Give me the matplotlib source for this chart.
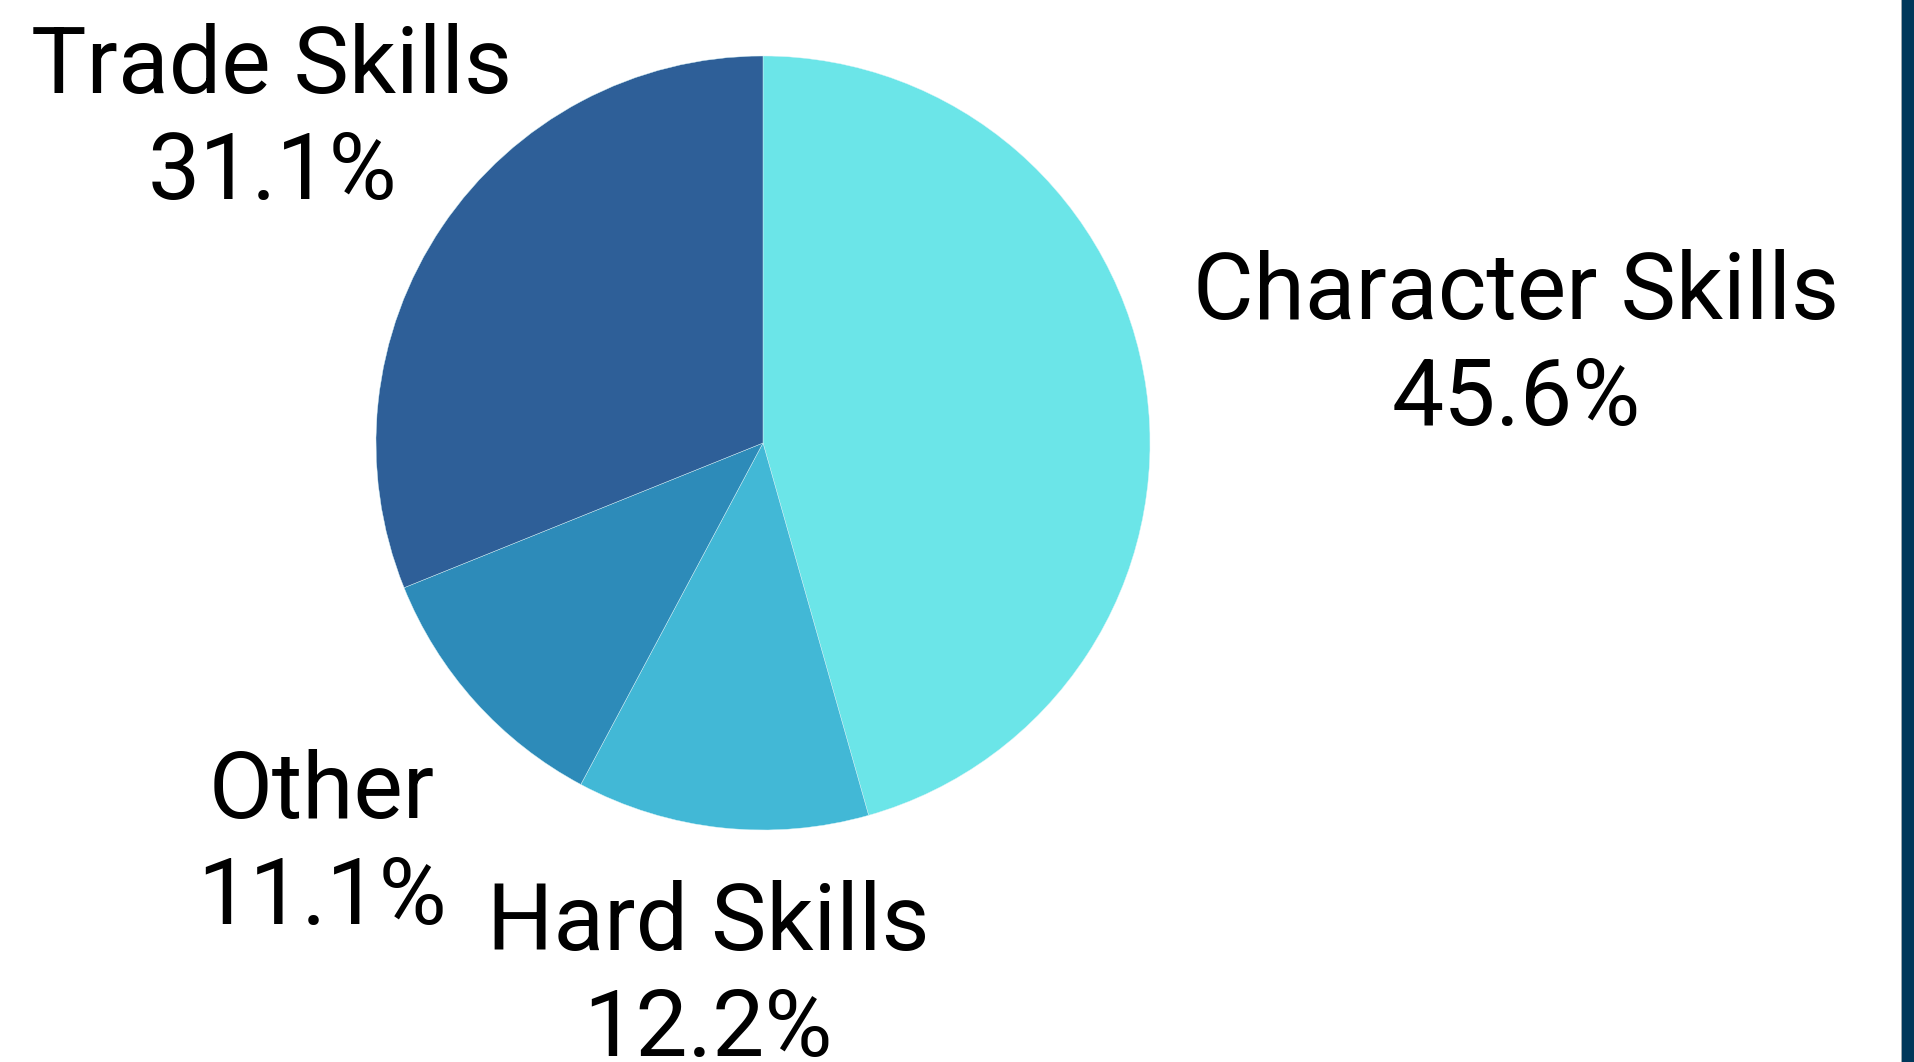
import matplotlib
matplotlib.use('Agg')
import matplotlib.pyplot as plt
from matplotlib.patches import Rectangle

W, H = 1914, 1062  # output size in pixels
DPI = 100

# Data
categories = ['Character Skills', 'Hard Skills', 'Other', 'Trade Skills']
shares = [45.6, 12.2, 11.1, 31.1]
colors = ['#6be5e8', '#42b8d6', '#2d8bb9', '#2e5f98']

# Label anchors (pixel x of centre, pixel baseline of first line)
label_pos = {
    'Character Skills': (1516, 319),
    'Hard Skills': (708, 950),
    'Other': (322, 818),
    'Trade Skills': (272, 93),
}
LINE_GAP = 106  # baseline to baseline

plt.rcParams['font.family'] = ['Roboto', 'DejaVu Sans']


def px(x, y):
    return x / W, 1 - y / H


def main():
    fig = plt.figure(figsize=(W / DPI, H / DPI), dpi=DPI)
    fig.patch.set_facecolor('white')

    cx, cy, r = 763, 443, 387
    left, bottom = px(cx - r, cy + r)
    ax = fig.add_axes([left, bottom, 2 * r / W, 2 * r / H])
    ax.pie(shares, colors=colors, startangle=90, counterclock=False,
           wedgeprops=dict(edgecolor='#d8f4f8', linewidth=0.3), frame=False)
    ax.set_xlim(-1, 1)
    ax.set_ylim(-1, 1)
    ax.set_aspect('auto')
    ax.axis('off')

    for name, val in zip(categories, shares):
        x, y = label_pos[name]
        fig.text(*px(x, y), name, ha='center', va='baseline',
                 fontsize=67, fontweight='normal', color='black')
        fig.text(*px(x, y + LINE_GAP), f'{val:.1f}%', ha='center', va='baseline',
                 fontsize=67, fontweight='normal', color='black')

    # dark strip at the right edge
    fig.add_artist(Rectangle(px(1901, H), 1 / W, 1, transform=fig.transFigure,
                             color='#9aa5ad', lw=0))
    fig.add_artist(Rectangle(px(1902, H), 12 / W, 1, transform=fig.transFigure,
                             color='#00375a', lw=0))

    fig.savefig('out.png', dpi=DPI)
    plt.close(fig)


if __name__ == '__main__':
    main()
